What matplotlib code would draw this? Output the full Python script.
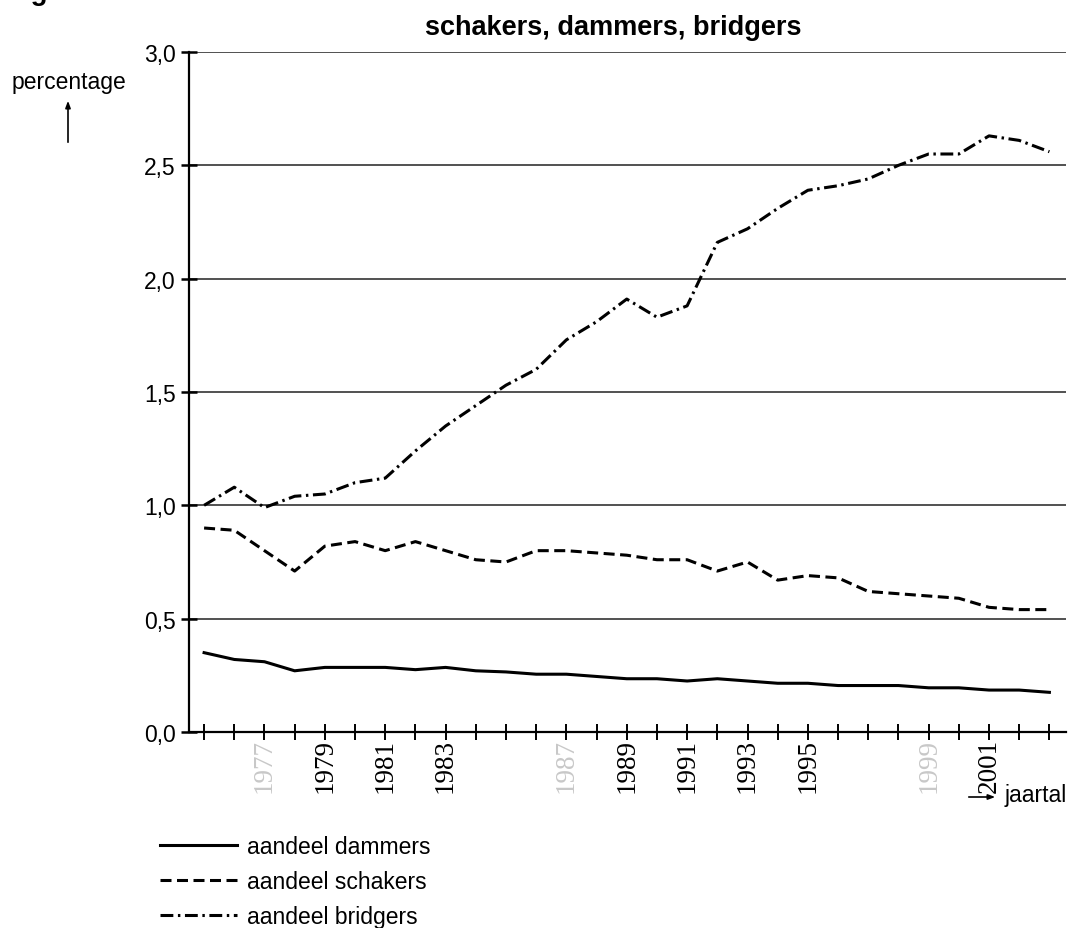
import matplotlib
matplotlib.use("Agg")
import matplotlib.pyplot as plt
from matplotlib.patches import FancyArrowPatch
from matplotlib.ticker import FixedLocator, FuncFormatter

plt.rcParams["font.family"] = ["Liberation Sans", "DejaVu Sans"]

years = list(range(1975, 2004))
dammers = [0.35, 0.32, 0.31, 0.27, 0.285, 0.285, 0.285, 0.275, 0.285, 0.27, 0.265, 0.255,
           0.255, 0.245, 0.235, 0.235, 0.225, 0.235, 0.225, 0.215, 0.215, 0.205, 0.205,
           0.205, 0.195, 0.195, 0.185, 0.185, 0.175]
schakers = [0.90, 0.89, 0.80, 0.71, 0.82, 0.84, 0.80, 0.84, 0.80, 0.76, 0.75, 0.80,
            0.80, 0.79, 0.78, 0.76, 0.76, 0.71, 0.75, 0.67, 0.69, 0.68, 0.62,
            0.61, 0.60, 0.59, 0.55, 0.54, 0.54]
bridgers = [1.00, 1.08, 0.99, 1.04, 1.05, 1.10, 1.12, 1.24, 1.35, 1.44, 1.53, 1.60,
            1.73, 1.81, 1.91, 1.83, 1.88, 2.16, 2.22, 2.31, 2.39, 2.41, 2.44,
            2.50, 2.55, 2.55, 2.63, 2.61, 2.56]
labeled_years = [1977, 1979, 1981, 1983, 1987, 1989, 1991, 1993, 1995, 1999, 2001]
grey_years = [1977, 1987, 1999]
y_ticks = [0.0, 0.5, 1.0, 1.5, 2.0, 2.5, 3.0]

W, H = 1068, 929
FS = 16.5
fig = plt.figure(figsize=(W / 100, H / 100), dpi=100)
ax = fig.add_axes([189 / W, 1 - 733 / H, (1066 - 189) / W, (733 - 53) / H])

for yv in y_ticks[1:]:
    ax.axhline(yv, color="#222222", lw=1.1, zorder=1)

LW = 2.2
ax.plot(years, dammers, color="k", lw=LW, solid_joinstyle="round", label="aandeel dammers", zorder=3)
ax.plot(years, schakers, color="k", lw=LW, linestyle=(0, (3.6, 1.8)), label="aandeel schakers", zorder=3)
ax.plot(years, bridgers, color="k", lw=LW, linestyle=(0, (4.2, 1.5, 0.8, 1.5)),
        label="aandeel bridgers", zorder=3)

ax.set_xlim(1974.5, 2003.55)
ax.set_ylim(0, 3.0)
for s in ["top", "right"]:
    ax.spines[s].set_visible(False)
ax.spines["left"].set_linewidth(1.6)
ax.spines["bottom"].set_linewidth(1.6)

ax.yaxis.set_major_locator(FixedLocator(y_ticks))
ax.yaxis.set_major_formatter(FuncFormatter(lambda v, p: f"{v:.1f}".replace(".", ",")))
ax.tick_params(axis="y", direction="inout", length=11, width=1.8, pad=4, labelsize=FS)

ax.xaxis.set_major_locator(FixedLocator(years))
ax.set_xticklabels([str(y) if y in labeled_years else "" for y in years],
                   rotation=90, family="Liberation Serif", fontsize=19.5)
ax.tick_params(axis="x", direction="inout", length=12, width=1.4, pad=-2)
for lbl, y in zip(ax.get_xticklabels(), years):
    if y in grey_years:
        lbl.set_color("#c8c8c8")

fig.text(613 / W, 1 - 28 / H, "schakers, dammers, bridgers", ha="center", va="center",
         fontsize=19.5, fontweight="bold")
fig.text(6 / W, 1 + 0.5 / H, "Figuur", ha="left", va="baseline", fontsize=20, fontweight="bold")
fig.text(69 / W, 1 - 83 / H, "percentage", ha="center", va="center", fontsize=FS)
fig.add_artist(FancyArrowPatch((68 / W, 1 - 146 / H), (68 / W, 1 - 99 / H),
               transform=fig.transFigure, arrowstyle="-|>,head_length=4,head_width=1.5",
               color="k", lw=1.2))
fig.text(1005 / W, 1 - 796 / H, "jaartal", ha="left", va="center", fontsize=FS)
fig.add_artist(FancyArrowPatch((966 / W, 1 - 798 / H), (998 / W, 1 - 798 / H),
               transform=fig.transFigure, arrowstyle="-|>,head_length=4,head_width=1.5",
               color="k", lw=1.2))

ax.legend(loc="upper left", bbox_to_anchor=(160 / W, 1 - 836 / H), bbox_transform=fig.transFigure,
          frameon=False, fontsize=FS, handlelength=3.36, handletextpad=0.44, labelspacing=0.52,
          borderpad=0, borderaxespad=0)

fig.savefig("out.png", dpi=100)
